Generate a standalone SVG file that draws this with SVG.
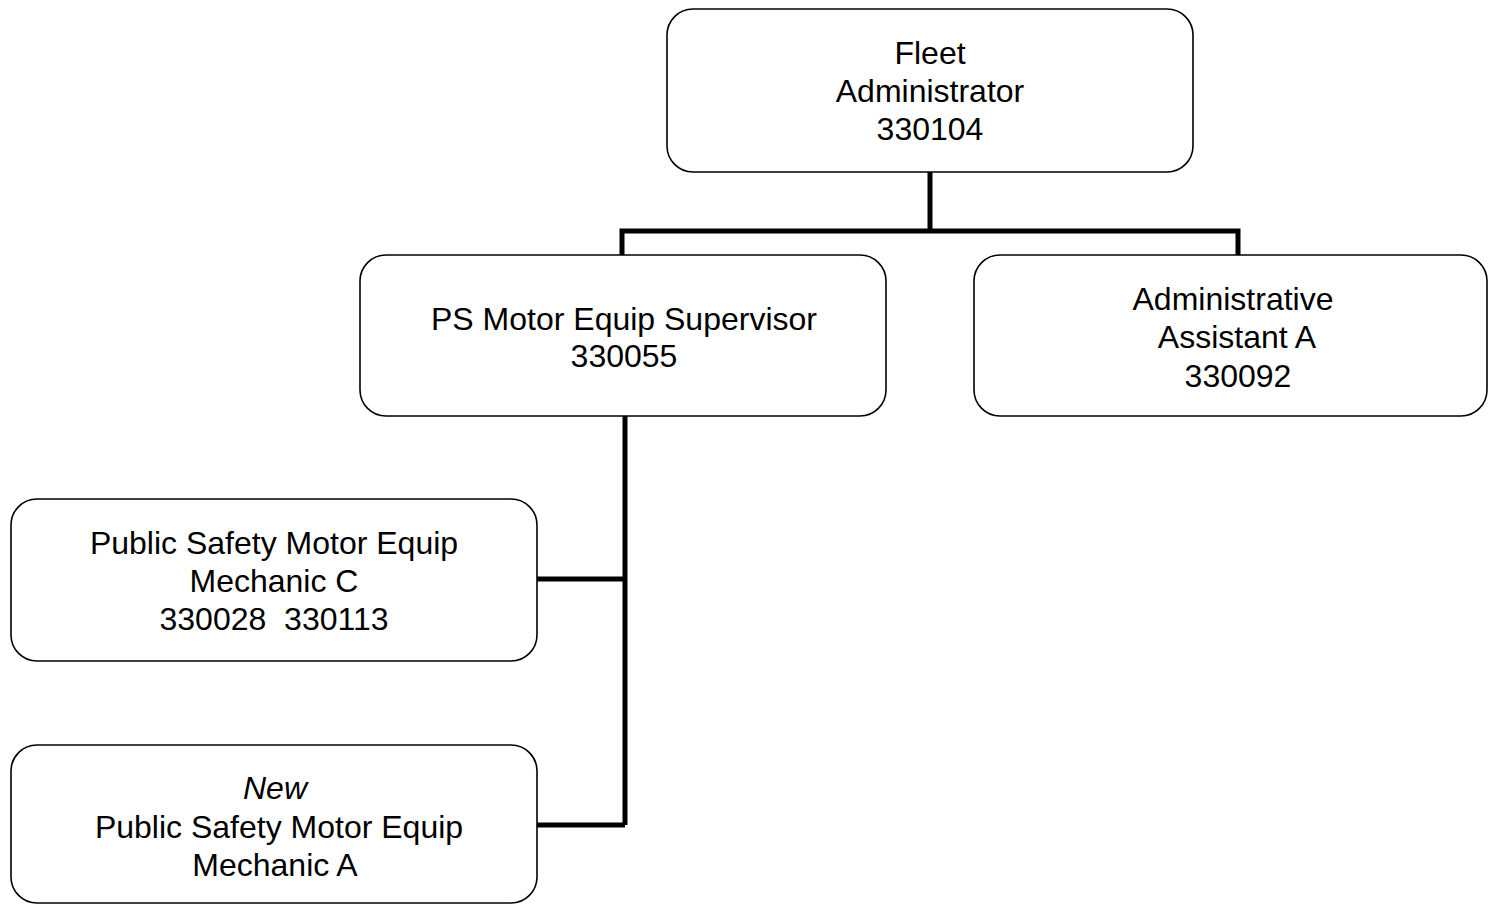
<svg xmlns="http://www.w3.org/2000/svg" width="1488" height="905" viewBox="0 0 1488 905">
<style>
.box{fill:#fff;stroke:#000;stroke-width:1.6}
.t{font-family:"Liberation Sans",Arial,sans-serif;font-size:32px;fill:#000;text-anchor:middle;white-space:pre}
.i{font-style:italic}
.c{fill:none;stroke:#000;stroke-width:5;stroke-linejoin:miter;stroke-linecap:butt}
</style>
<rect width="1488" height="905" fill="#fff"/>
<g id="connectors">
<path class="c" d="M930 172 V231 M622 258 V231 H1238 V258"/>
<path class="c" d="M625 416 V825 M537 579 H625 M537 825 H625"/>
</g>
<g id="fleet-admin">
<rect class="box" x="667" y="9" width="526" height="163" rx="26"/>
<text class="t" x="930" y="64">Fleet</text>
<text class="t" x="930" y="102">Administrator</text>
<text class="t" x="930" y="140">330104</text>
</g>
<g id="ps-supervisor">
<rect class="box" x="360" y="255" width="526" height="161" rx="26"/>
<text class="t" x="624" y="330">PS Motor Equip Supervisor</text>
<text class="t" x="624" y="367">330055</text>
</g>
<g id="admin-assistant">
<rect class="box" x="974" y="255" width="513" height="161" rx="26"/>
<text class="t" x="1233" y="310">Administrative</text>
<text class="t" x="1237" y="348">Assistant A</text>
<text class="t" x="1238" y="387">330092</text>
</g>
<g id="mechanic-c">
<rect class="box" x="11" y="499" width="526" height="162" rx="26"/>
<text class="t" x="274" y="554">Public Safety Motor Equip</text>
<text class="t" x="274" y="592">Mechanic C</text>
<text class="t" x="274" y="630" xml:space="preserve">330028  330113</text>
</g>
<g id="mechanic-a">
<rect class="box" x="11" y="745" width="526" height="158" rx="26"/>
<text class="t i" x="275" y="799">New</text>
<text class="t" x="279" y="838">Public Safety Motor Equip</text>
<text class="t" x="275" y="876">Mechanic A</text>
</g>
</svg>
